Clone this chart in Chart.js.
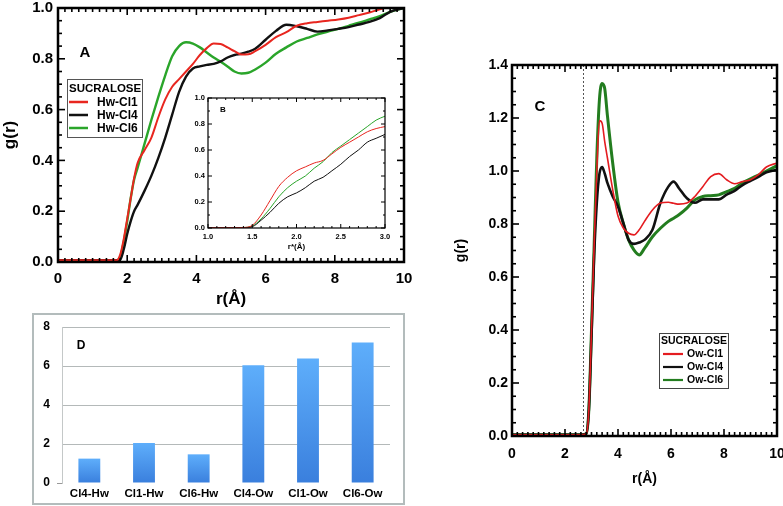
<!DOCTYPE html>
<html><head><meta charset="utf-8">
<script src="https://cdn.jsdelivr.net/npm/chart.js@4.4.1/dist/chart.umd.min.js"></script>
<style>
html,body{margin:0;padding:0;background:#fff;}
#wrap{position:relative;width:783px;height:506px;overflow:hidden;background:#fff;}
canvas{position:absolute;left:0;top:0;}
</style></head><body>
<div id="wrap">
<canvas id="cA" width="783" height="506"></canvas>
<canvas id="cB" width="783" height="506"></canvas>
<canvas id="cC" width="783" height="506"></canvas>
<canvas id="cD" width="783" height="506"></canvas>
</div>
<script>
// ---------- DATA ----------
// Panel A : Hw–Cl radial distribution functions
const rA = [0, 1.0, 1.7, 1.8, 1.9, 2.0, 2.1, 2.2, 2.3, 2.5, 2.7, 2.9, 3.1, 3.3, 3.5, 3.7, 3.9, 4.1, 4.3, 4.5,
            4.7, 4.9, 5.1, 5.3, 5.5, 5.7, 6.0, 6.3, 6.6, 6.9, 7.2, 7.5, 7.8, 8.1, 8.4, 8.7, 9.0, 9.3, 9.6, 10.0];
const hwCl1 = [0.007, 0.007, 0.007, 0.03, 0.09, 0.17, 0.25, 0.33, 0.39, 0.44, 0.49, 0.57, 0.64, 0.69, 0.72, 0.75, 0.78, 0.815, 0.842, 0.86,
               0.858, 0.845, 0.83, 0.817, 0.818, 0.83, 0.855, 0.885, 0.905, 0.93, 0.94, 0.945, 0.95, 0.955, 0.962, 0.972, 0.982, 0.995, 1.005, 1.01];
const hwCl4 = [0.007, 0.007, 0.007, 0.01, 0.05, 0.11, 0.16, 0.2, 0.225, 0.28, 0.34, 0.41, 0.49, 0.58, 0.67, 0.73, 0.762, 0.77, 0.776, 0.78,
               0.79, 0.805, 0.815, 0.82, 0.828, 0.84, 0.875, 0.91, 0.934, 0.928, 0.918, 0.907, 0.912, 0.918, 0.925, 0.935, 0.945, 0.96, 0.985, 1.0];
const hwCl6 = [0.007, 0.007, 0.007, 0.02, 0.08, 0.16, 0.25, 0.325, 0.37, 0.465, 0.56, 0.65, 0.735, 0.81, 0.85, 0.865, 0.86, 0.845, 0.825, 0.805,
               0.788, 0.77, 0.75, 0.742, 0.745, 0.758, 0.785, 0.82, 0.845, 0.868, 0.882, 0.896, 0.907, 0.918, 0.93, 0.942, 0.955, 0.968, 0.985, 1.0];
const labelsA = ['Hw-Cl1', 'Hw-Cl4', 'Hw-Cl6'];

// Panel B (inset) : close-range detail
const rB = [1.0, 1.2, 1.4, 1.5, 1.6, 1.7, 1.8, 1.9, 2.0, 2.1, 2.2, 2.3, 2.4, 2.5, 2.6, 2.7, 2.8, 2.9, 3.0];
const bCl1 = [0.002, 0.002, 0.004, 0.02, 0.1, 0.21, 0.32, 0.39, 0.44, 0.47, 0.5, 0.52, 0.57, 0.62, 0.66, 0.7, 0.74, 0.765, 0.78];
const bCl4 = [0.002, 0.002, 0.003, 0.01, 0.06, 0.12, 0.19, 0.24, 0.27, 0.31, 0.36, 0.39, 0.44, 0.49, 0.55, 0.6, 0.66, 0.69, 0.72];
const bCl6 = [0.002, 0.002, 0.004, 0.015, 0.07, 0.15, 0.24, 0.31, 0.36, 0.4, 0.46, 0.51, 0.58, 0.63, 0.68, 0.73, 0.78, 0.83, 0.86];

// Panel C : Ow–Cl radial distribution functions
const rC = [0, 2.6, 2.8, 2.9, 3.0, 3.1, 3.2, 3.3, 3.4, 3.5, 3.6, 3.8, 4.0, 4.2, 4.4, 4.6, 4.8, 5.0, 5.3, 5.6,
            5.9, 6.1, 6.3, 6.6, 6.9, 7.2, 7.5, 7.8, 8.1, 8.4, 8.7, 9.0, 9.3, 9.6, 10.0];
const owCl1 = [0.005, 0.005, 0.008, 0.1, 0.4, 0.72, 1.0, 1.19, 1.18, 1.11, 1.05, 0.93, 0.83, 0.785, 0.765, 0.759, 0.778, 0.81, 0.853, 0.879,
               0.882, 0.878, 0.875, 0.879, 0.904, 0.941, 0.979, 0.99, 0.967, 0.952, 0.96, 0.967, 0.986, 1.015, 1.03];
const owCl4 = [0.005, 0.005, 0.008, 0.1, 0.38, 0.68, 0.88, 0.99, 1.015, 0.99, 0.955, 0.904, 0.866, 0.803, 0.74, 0.725, 0.73, 0.74, 0.778, 0.879,
               0.941, 0.96, 0.935, 0.897, 0.88, 0.893, 0.893, 0.893, 0.911, 0.925, 0.947, 0.963, 0.978, 0.995, 1.005];
const owCl6 = [0.005, 0.005, 0.008, 0.1, 0.4, 0.72, 1.05, 1.27, 1.33, 1.31, 1.21, 1.03, 0.883, 0.803, 0.74, 0.702, 0.683, 0.708, 0.752, 0.784,
               0.81, 0.822, 0.835, 0.86, 0.891, 0.904, 0.907, 0.91, 0.922, 0.935, 0.955, 0.97, 0.985, 1.0, 1.02];
const labelsC = ['Ow-Cl1', 'Ow-Cl4', 'Ow-Cl6'];
const cutoffC = 2.67;

// Panel D : coordination numbers
const categoriesD = ['Cl4-Hw', 'Cl1-Hw', 'Cl6-Hw', 'Cl4-Ow', 'Cl1-Ow', 'Cl6-Ow'];
const valuesD = [1.25, 2.05, 1.47, 6.04, 6.38, 7.2];

const legendTitle = 'SUCRALOSE';
const axisTitleR = 'r(Å)';
const axisTitleRstar = 'r*(Å)';
const axisTitleG = 'g(r)';

// ---------- HELPERS / PLUGINS ----------
const FF = "'Liberation Sans', Arial, Helvetica, sans-serif";
const pts = (xs, ys) => xs.map((x, i) => ({x: x, y: ys[i]}));
function steps(min, max, step) {
  const n = Math.round((max - min) / step), out = [];
  for (let i = 0; i <= n; i++) out.push(+(min + i * step).toFixed(6));
  return out;
}
const isMajor = (v, m) => Math.abs(v / m - Math.round(v / m)) < 1e-6;

function makeFrame(cfg) {
  return {
    id: 'frame',
    beforeDatasetsDraw(chart) {
      if (!cfg.fill) return;
      const a = chart.chartArea, ctx = chart.ctx;
      ctx.save(); ctx.fillStyle = cfg.fill;
      ctx.fillRect(a.left, a.top, a.right - a.left, a.bottom - a.top);
      ctx.restore();
    },
    afterDraw(chart) {
      const ctx = chart.ctx, a = chart.chartArea, xs = chart.scales.x, ys = chart.scales.y;
      ctx.save();
      ctx.setLineDash([]);
      ctx.strokeStyle = '#000'; ctx.lineWidth = cfg.tickWidth;
      const seg = (x0, y0, x1, y1) => { ctx.beginPath(); ctx.moveTo(x0, y0); ctx.lineTo(x1, y1); ctx.stroke(); };
      steps(xs.min, xs.max, cfg.xMinor).forEach(v => {
        const p = xs.getPixelForValue(v);
        const L = isMajor(v, cfg.xMajor) ? cfg.majorLen : cfg.minorLen;
        seg(p, a.bottom, p, a.bottom - L);
        seg(p, a.top, p, a.top + L);
      });
      steps(ys.min, ys.max, cfg.yMinor).forEach(v => {
        const p = ys.getPixelForValue(v);
        const L = isMajor(v, cfg.yMajor) ? cfg.majorLen : cfg.minorLen;
        seg(a.left, p, a.left + L, p);
        seg(a.right, p, a.right - L, p);
      });
      ctx.lineWidth = cfg.frameWidth;
      ctx.strokeRect(a.left, a.top, a.right - a.left, a.bottom - a.top);
      ctx.restore();
    }
  };
}

function makeVline(cfg) {
  return {
    id: 'vline',
    beforeDatasetsDraw(chart) {
      const ctx = chart.ctx, a = chart.chartArea;
      const x = Math.round(chart.scales.x.getPixelForValue(cfg.value)) + 0.5;
      ctx.save(); ctx.setLineDash(cfg.dash); ctx.strokeStyle = cfg.color; ctx.lineWidth = cfg.width;
      ctx.beginPath(); ctx.moveTo(x, a.top); ctx.lineTo(x, a.bottom); ctx.stroke(); ctx.restore();
    }
  };
}

function makeBoxLegend(o) {
  return {
    id: 'boxLegend',
    afterDraw(chart) {
      const ctx = chart.ctx, b = o.box;
      ctx.save();
      ctx.fillStyle = '#fff'; ctx.fillRect(b[0], b[1], b[2] - b[0], b[3] - b[1]);
      ctx.strokeStyle = o.border; ctx.lineWidth = 1;
      ctx.strokeRect(b[0] + 0.5, b[1] + 0.5, b[2] - b[0], b[3] - b[1]);
      ctx.fillStyle = '#000'; ctx.textBaseline = 'middle'; ctx.textAlign = 'left';
      ctx.font = o.titleFont; ctx.fillText(o.title, o.titleX, o.titleY);
      ctx.font = o.font;
      chart.data.datasets.forEach((d, i) => {
        const y = o.rowY[i];
        ctx.strokeStyle = d.borderColor; ctx.lineWidth = o.lineWidth;
        ctx.beginPath(); ctx.moveTo(o.lineX[0], y); ctx.lineTo(o.lineX[1], y); ctx.stroke();
        ctx.fillStyle = '#000'; ctx.fillText(d.label, o.textX, y + 0.5);
      });
      ctx.restore();
    }
  };
}

function makeNotes(items) {
  return {
    id: 'notes',
    afterDraw(chart) {
      const ctx = chart.ctx;
      ctx.save();
      items.forEach(it => {
        ctx.font = it.font; ctx.fillStyle = '#000'; ctx.textAlign = 'center'; ctx.textBaseline = 'middle';
        ctx.fillText(it.text, it.x, it.y);
      });
      ctx.restore();
    }
  };
}

function makeBox(o) {
  return {
    id: 'panelBox',
    beforeDraw(chart) {
      const ctx = chart.ctx, r = o.rect;
      ctx.save(); ctx.strokeStyle = o.color; ctx.lineWidth = o.width;
      ctx.strokeRect(r[0], r[1], r[2], r[3]); ctx.restore();
    }
  };
}

const base = {responsive: false, animation: false, devicePixelRatio: 1, events: []};
const font = (s, w) => ({family: FF, size: s, weight: w || 'bold'});
const lineDs = (label, xs, ys, color, w) => ({
  label: label, data: pts(xs, ys), borderColor: color, backgroundColor: color,
  borderWidth: w, pointRadius: 0, fill: false, cubicInterpolationMode: 'monotone'
});
const hiddenGrid = {display: false, drawTicks: false};
const noPlug = {legend: {display: false}, tooltip: {enabled: false}};
// fix axis boxes exactly (no automatic label padding around the plot area)
const fitX = h => s => { s.height = h; s.paddingLeft = 0; s.paddingRight = 0; };
const fitY = w => s => { s.width = w; s.paddingTop = 0; s.paddingBottom = 0; };

// ---------- PANEL A ----------
new Chart(document.getElementById('cA'), {
  type: 'line',
  data: {datasets: [
    lineDs(labelsA[0], rA, hwCl1, '#e8261f', 2),
    lineDs(labelsA[1], rA, hwCl4, '#111111', 2.4),
    lineDs(labelsA[2], rA, hwCl6, '#2aa52a', 2.4)
  ]},
  options: Object.assign({}, base, {
    layout: {padding: {left: 0, top: 8, right: 379, bottom: 194}},
    plugins: noPlug,
    scales: {
      x: {type: 'linear', min: 0, max: 10, afterFit: fitX(50),
          grid: hiddenGrid, border: {display: false},
          ticks: {stepSize: 2, padding: 8, color: '#000', font: font(15), maxRotation: 0},
          title: {display: true, text: axisTitleR, color: '#000', font: font(17), padding: {top: 0, bottom: 2}}},
      y: {type: 'linear', min: 0, max: 1, afterFit: fitY(58),
          grid: hiddenGrid, border: {display: false},
          ticks: {stepSize: 0.2, padding: 5, color: '#000', font: font(15), callback: v => v.toFixed(1)},
          title: {display: true, text: axisTitleG, color: '#000', font: font(17), padding: 0}}
    }
  }),
  plugins: [
    makeFrame({xMajor: 2, xMinor: 0.2, yMajor: 0.2, yMinor: 0.05, majorLen: 7, minorLen: 4, tickWidth: 1.6, frameWidth: 2.5}),
    makeBoxLegend({box: [67, 79, 142, 137], border: '#555', title: legendTitle, titleX: 69, titleY: 89,
                   titleFont: 'bold 11.5px ' + FF, font: 'bold 12px ' + FF, rowY: [102, 115, 128],
                   lineX: [69, 88], lineWidth: 2.5, textX: 97}),
    makeNotes([{text: 'A', x: 85, y: 53, font: 'bold 15px ' + FF}])
  ]
});

// ---------- PANEL B (inset) ----------
new Chart(document.getElementById('cB'), {
  type: 'line',
  data: {datasets: [
    lineDs(labelsA[0], rB, bCl1, '#e8261f', 1),
    lineDs(labelsA[1], rB, bCl4, '#111111', 1),
    lineDs(labelsA[2], rB, bCl6, '#2aa52a', 1)
  ]},
  options: Object.assign({}, base, {
    layout: {padding: {left: 178, top: 98, right: 398, bottom: 252}},
    plugins: noPlug,
    scales: {
      x: {type: 'linear', min: 1, max: 3, afterFit: fitX(26),
          grid: hiddenGrid, border: {display: false},
          ticks: {stepSize: 0.5, padding: 4, color: '#000', font: font(7.5), maxRotation: 0, callback: v => v.toFixed(1)},
          title: {display: true, text: axisTitleRstar, color: '#000', font: font(8), padding: {top: 0, bottom: 2}}},
      y: {type: 'linear', min: 0, max: 1, afterFit: fitY(30),
          grid: hiddenGrid, border: {display: false},
          ticks: {stepSize: 0.2, padding: 3, color: '#000', font: font(7.5), callback: v => v.toFixed(1)}}
    }
  }),
  plugins: [
    makeFrame({fill: '#fff', xMajor: 0.5, xMinor: 0.1, yMajor: 0.2, yMinor: 0.1, majorLen: 4, minorLen: 2, tickWidth: 1, frameWidth: 1.2}),
    makeNotes([{text: 'B', x: 223, y: 110, font: 'bold 8px ' + FF}])
  ]
});

// ---------- PANEL C ----------
new Chart(document.getElementById('cC'), {
  type: 'line',
  data: {datasets: [
    lineDs(labelsC[0], rC, owCl1, '#e41c20', 1.6),
    lineDs(labelsC[1], rC, owCl4, '#111111', 2.6),
    lineDs(labelsC[2], rC, owCl6, '#237d1f', 3)
  ]},
  options: Object.assign({}, base, {
    layout: {padding: {left: 453, top: 65, right: 6, bottom: 16}},
    plugins: noPlug,
    scales: {
      x: {type: 'linear', min: 0, max: 10, afterFit: fitX(54),
          grid: hiddenGrid, border: {display: false},
          ticks: {stepSize: 2, padding: 10, color: '#000', font: font(14), maxRotation: 0},
          title: {display: true, text: axisTitleR, color: '#000', font: font(14), padding: {top: 0, bottom: 2}}},
      y: {type: 'linear', min: 0, max: 1.4, afterFit: fitY(59),
          grid: hiddenGrid, border: {display: false},
          ticks: {stepSize: 0.2, padding: 4, color: '#000', font: font(14), callback: v => v.toFixed(1)},
          title: {display: true, text: axisTitleG, color: '#000', font: font(14), padding: 0}}
    }
  }),
  plugins: [
    makeVline({value: cutoffC, dash: [2, 2], color: '#555', width: 1}),
    makeFrame({xMajor: 2, xMinor: 0.2, yMajor: 0.2, yMinor: 0.05, majorLen: 7, minorLen: 4, tickWidth: 1.6, frameWidth: 2.5}),
    makeBoxLegend({box: [659, 333, 728, 388], border: '#444', title: legendTitle, titleX: 661, titleY: 341,
                   titleFont: 'bold 10.5px ' + FF, font: 'bold 10.5px ' + FF, rowY: [354, 367, 380],
                   lineX: [663, 683], lineWidth: 2.2, textX: 687}),
    makeNotes([{text: 'C', x: 540, y: 107, font: 'bold 15px ' + FF}])
  ]
});

// ---------- PANEL D ----------
new Chart(document.getElementById('cD'), {
  type: 'bar',
  data: {labels: categoriesD, datasets: [{
    data: valuesD, barPercentage: 0.4, categoryPercentage: 1, borderWidth: 0,
    backgroundColor: c => {
      const ch = c.chart, a = ch.chartArea, ys = ch.scales.y;
      if (!a || !ys || c.raw == null) return '#4a97ea';
      const top = ys.getPixelForValue(c.raw), bot = ys.getPixelForValue(0);
      const g = ch.ctx.createLinearGradient(0, top, 0, bot);
      g.addColorStop(0, '#5eaefb'); g.addColorStop(1, '#3a7fdd');
      return g;
    }
  }]},
  options: Object.assign({}, base, {
    layout: {padding: {left: 32, top: 327, right: 393, bottom: 3}},
    plugins: noPlug,
    scales: {
      x: {afterFit: fitX(20), grid: hiddenGrid, border: {display: false},
          ticks: {padding: 4, color: '#000', font: font(11.5), maxRotation: 0}},
      y: {min: 0, max: 8, afterFit: fitY(30), border: {display: true, color: '#c4c8c8', width: 1},
          grid: {drawTicks: true, tickLength: 5,
                 color: c => (c.tick && c.tick.value === 0) ? 'rgba(0,0,0,0)' : '#b4b9b9',
                 tickColor: c => (c.tick && c.tick.value === 0) ? '#999' : 'rgba(0,0,0,0)'},
          ticks: {stepSize: 2, padding: 7, color: '#000', font: font(12)}}
    }
  }),
  plugins: [
    makeBox({rect: [33, 314, 371, 190], color: '#b3bcbc', width: 2}),
    makeNotes([{text: 'D', x: 81, y: 346, font: 'bold 12px ' + FF}])
  ]
});
</script>
</body></html>
